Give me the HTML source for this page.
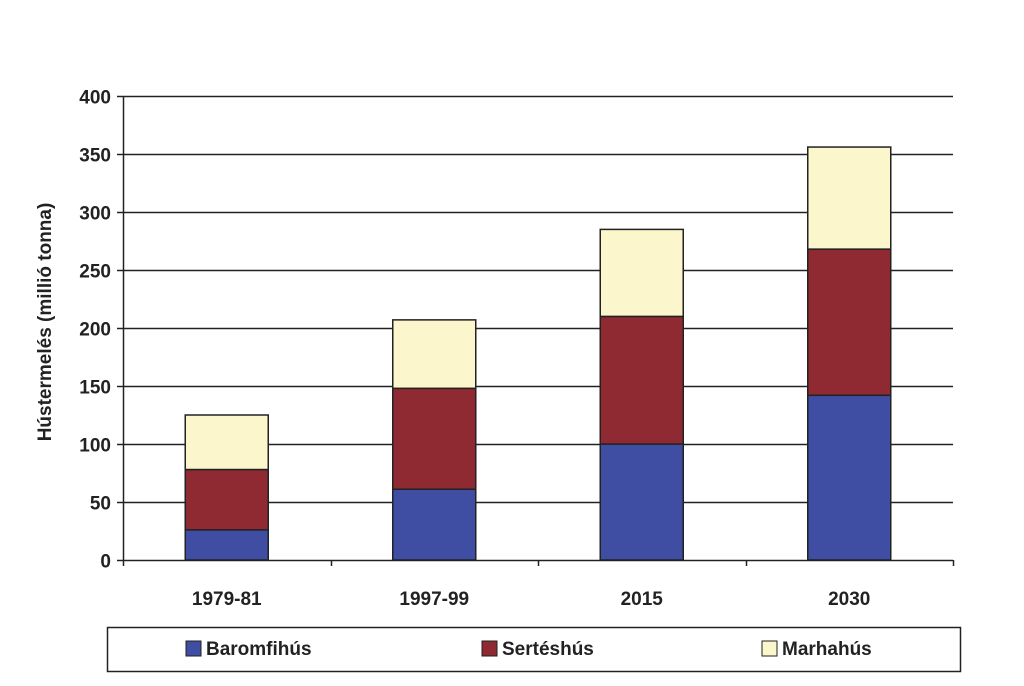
<!DOCTYPE html>
<html><head><meta charset="utf-8"><style>
html,body{margin:0;padding:0;background:#fff;}
svg{display:block;font-family:"Liberation Sans",Arial,sans-serif;}
</style></head><body>
<svg id="chart" width="1024" height="686" viewBox="0 0 1024 686">
<g id="grid"></g>
<g id="bars"></g>
<g id="axes"></g>
<text transform="translate(51,322) rotate(-90)" text-anchor="middle" font-size="19" font-weight="bold" fill="#222">Hústermelés (millió tonna)</text>
<g>
<rect x="107.5" y="627.5" width="853" height="44" fill="#fff" stroke="#222" stroke-width="1.5"/>
<g><rect x="186" y="641" width="15" height="15" fill="#3f4ea3" stroke="#222" stroke-width="1"/><text x="206" y="655" font-size="19" font-weight="bold" fill="#222">Baromfihús</text></g>
<g><rect x="482" y="641" width="15" height="15" fill="#8f2a33" stroke="#222" stroke-width="1"/><text x="502" y="655" font-size="19" font-weight="bold" fill="#222">Sertéshús</text></g>
<g><rect x="762" y="641" width="15" height="15" fill="#fbf6cb" stroke="#222" stroke-width="1"/><text x="782" y="655" font-size="19" font-weight="bold" fill="#222">Marhahús</text></g>
</g>
</svg>
<script>
const categories = ["1979-81","1997-99","2015","2030"];
const poultry = [26, 61, 100, 142];
const pork = [52, 87, 110, 126];
const beef = [47, 59, 75, 88];
const yTicks = [0,50,100,150,200,250,300,350,400];
const seriesNames = ["baromfihus","serteshus","marhahus"];
const colors = ["#3f4ea3","#8f2a33","#fbf6cb"];

const NS = "http://www.w3.org/2000/svg";
const x0 = 123, x1 = 953, yTop = 96, yBot = 560, yMax = 400;
const yScale = v => yBot - v / yMax * (yBot - yTop);
const band = (x1 - x0) / categories.length;
const xCenter = i => x0 + band * (i + 0.5);
const barW = 83;
function mk(tag, attrs, parent){const e=document.createElementNS(NS,tag);for(const k in attrs)e.setAttribute(k,attrs[k]);parent.appendChild(e);return e;}
const grid=document.getElementById('grid'), bars=document.getElementById('bars'), axes=document.getElementById('axes');
yTicks.forEach(t=>{
  const y=Math.round(yScale(t))+0.5;
  if(t>0){const l=mk('line',{x1:x0,x2:x1,y1:y,y2:y,stroke:'#222','stroke-width':1.5},grid);
    
    }
  const tk=mk('line',{x1:x0-6,x2:x0,y1:y,y2:y,stroke:'#222','stroke-width':1.5},axes);
  
  
  const tx=mk('text',{x:x0-12,y:y+7,'text-anchor':'end','font-size':19,'font-weight':'bold',fill:'#222'},axes);
  tx.textContent=t;
  
  
});
const ya=mk('line',{x1:x0+0.5,x2:x0+0.5,y1:yTop,y2:yBot+0.5,stroke:'#222','stroke-width':1.5},axes);


const xa=mk('line',{x1:x0,x2:x1,y1:yBot+0.5,y2:yBot+0.5,stroke:'#222','stroke-width':1.5},axes);


for(let i=0;i<=categories.length;i++){
  const x=Math.round(x0+band*i)+0.5;
  const tk=mk('line',{x1:x,x2:x,y1:yBot,y2:yBot+6,stroke:'#222','stroke-width':1.5},axes);
  
  
}
categories.forEach((c,i)=>{
  const tx=mk('text',{x:xCenter(i),y:605,'text-anchor':'middle','font-size':19,'font-weight':'bold',fill:'#222'},axes);
  tx.textContent=c;
  
  
  let base=0;
  [poultry[i],pork[i],beef[i]].forEach((v,s)=>{
    const yA=yScale(base+v), yB=yScale(base);
    const r=mk('rect',{x:xCenter(i)-barW/2,y:yA,width:barW,height:yB-yA,fill:colors[s],stroke:'#222','stroke-width':1.5},bars);
    
    
    base+=v;
  });
});
</script>
</body></html>
